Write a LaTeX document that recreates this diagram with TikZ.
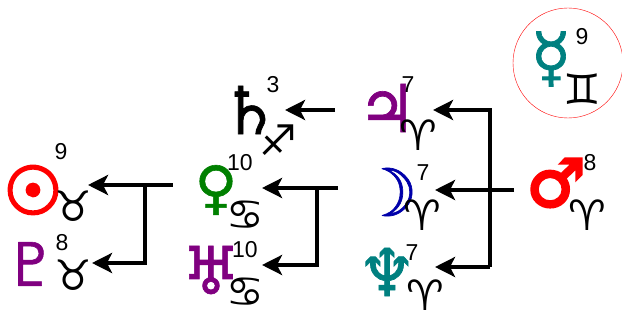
\documentclass[tikz,border=0pt]{standalone}
\usepackage{fontspec}
\setmainfont{Liberation Sans}
\newfontfamily\astro[FakeBold=1]{DejaVu Sans}
\newfontfamily\astrobf[FakeBold=4]{DejaVu Sans}
\newfontfamily\zodiac{DejaVu Sans}
\usetikzlibrary{arrows.meta,positioning}
\definecolor{sunred}{RGB}{255,0,0}
\definecolor{plum}{RGB}{128,0,128}
\definecolor{leaf}{RGB}{0,128,0}
\definecolor{navy}{RGB}{0,0,170}
\definecolor{teal}{RGB}{0,128,128}
\tikzset{
  glyph/.style={inner sep=0pt, font=\astro\fontsize{66}{66}\selectfont},
  boldglyph/.style={inner sep=0pt, font=\astrobf\fontsize{66}{66}\selectfont},
  sign/.style={inner sep=0pt, font=\zodiac\fontsize{42}{42}\selectfont},
  deg/.style={inner sep=0pt, font=\fontsize{23}{23}\selectfont},
  arr/.style={line width=4pt, line join=miter, -{Stealth[length=20pt,width=20pt,inset=5pt]}}
}
\begin{document}
\begin{tikzpicture}[x=1pt,y=-1pt]
\useasboundingbox (0,0) rectangle (622,321);
% planets
\node[boldglyph, text=sunred] (sun) at (33,190) {☉};
\node[deg] (sunsup) at (61,152) {9};
\node[sign] (sunsub) at (73,206) {♉};
\node[glyph, text=plum, font=\astro\fontsize{60}{60}\selectfont] (plu) at (31,264) {♇};
\node[deg] (plusup) at (62,243) {8};
\node[sign] (plusub) at (73,275) {♉};
\node[glyph, text=leaf, font=\astro\fontsize{58}{58}\selectfont] (ven) at (216,190) {♀};
\node[deg] (vensup) at (240,163) {10};
\node[sign] (vensub) at (245,215) {♋};
\node[glyph, text=plum] (ura) at (211,270) {♅};
\node[deg] (urasup) at (245,250) {10};
\node[sign] (urasub) at (245,292) {♋};
\node[glyph] (sat) at (250,110) {♄};
\node[deg] (satsup) at (273,85) {3};
\node[sign] (satsub) at (278,140) {♐};
\node[glyph, text=plum] (jup) at (387,108) {♃};
\node[deg] (jupsup) at (408,85) {7};
\node[sign] (jupsub) at (418,135) {♈};
\node[glyph, text=navy] (moon) at (388,192) {☽};
\node[deg] (moonsup) at (423,173) {7};
\node[sign] (moonsub) at (422,215) {♈};
\node[glyph, text=teal] (nep) at (387,272) {♆};
\node[deg] (nepsup) at (412,253) {7};
\node[sign] (nepsub) at (425,295) {♈};
\node[boldglyph, text=sunred] (mar) at (556,183) {♂};
\node[deg] (marsup) at (590,163) {8};
\node[sign] (marsub) at (587,215) {♈};
\node[glyph, text=teal] (mer) at (551,59) {☿};
\node[deg] (mersup) at (582,37) {9};
\node[sign] (mersub) at (582,89) {♊};
\node[draw=sunred, circle, minimum size=110pt] (mercirc) at (568,63) {};
% aspects
\coordinate (satin) at (285,110);
\coordinate (jupin) at (433,110);
\coordinate (moonin) at (435,190);
\coordinate (nepin) at (435,267);
\coordinate (venin) at (262,188);
\coordinate (urain) at (262,265);
\coordinate (sunin) at (88,185);
\coordinate (pluin) at (92,263);
\coordinate (jn1) at (145,185);
\coordinate (jn2) at (317,188);
\coordinate (jn3) at (490,110);
\path[draw,arr] ([xshift=-22pt]jup.west |- satin) -- (satin);
\path[draw,arr] ([xshift=-12pt]mar.west |- moonin) -- (moonin);
\path[draw,arr] ([xshift=-20pt]moon.west |- venin) -- (venin);
\path[draw,arr] ([xshift=-22pt]ven.west |- sunin) -- (sunin);
\path[draw,arr] (jn1) |- (pluin);
\path[draw,arr] (jn2) |- (urain);
\path[draw,arr] (jn3 |- nepin) -- (nepin);
\path[draw,arr] (jn3 |- nepin) -- (jn3) -- (jupin);
\end{tikzpicture}
\end{document}
